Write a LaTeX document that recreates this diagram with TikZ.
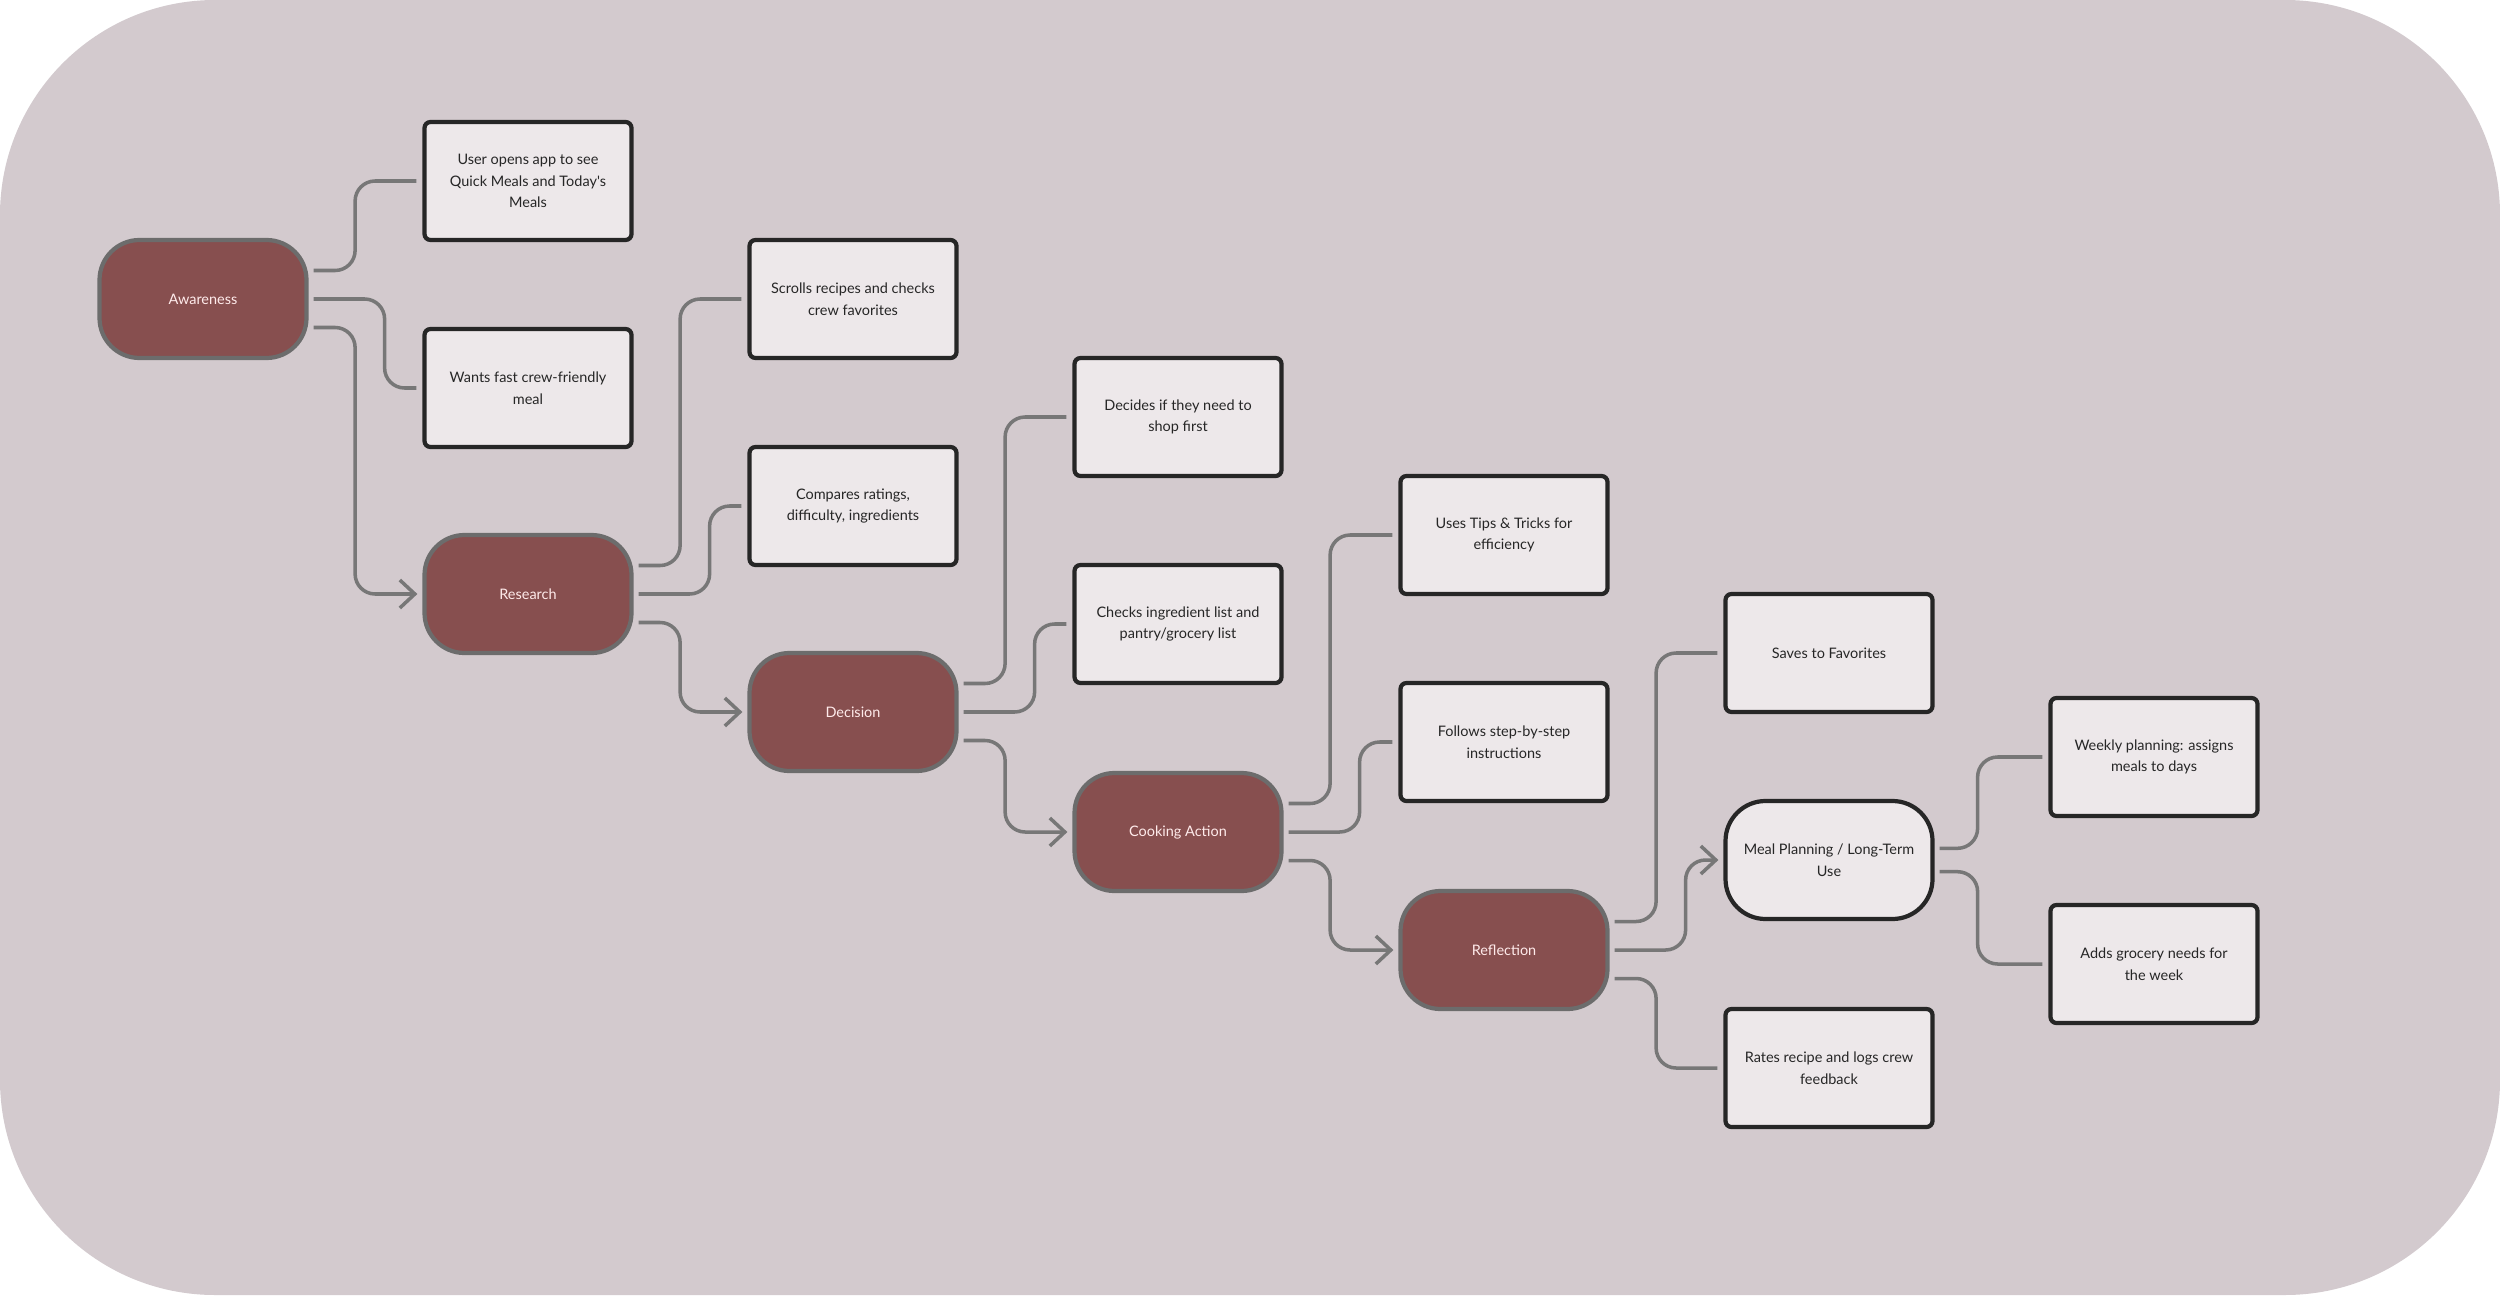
\documentclass[tikz,border=0pt]{standalone}
\usepackage{fontspec}
\setmainfont{Lato}
\usetikzlibrary{arrows.meta}

\definecolor{bgpink}{HTML}{D3CACE}
\definecolor{stagefill}{HTML}{874F4F}
\definecolor{boxfill}{HTML}{EDE8EA}
\definecolor{linkgray}{HTML}{777777}

\tikzset{
  stage/.style={draw=gray!85!black, line width=1.2pt, fill=stagefill, text=white!92!red,
    rounded corners=0.4cm, minimum width=2.07cm, minimum height=1.18cm, inner sep=0pt, align=center},
  plan/.style={stage, draw=black!85, fill=boxfill, text=black!85},
  stepbox/.style={draw=black!85, line width=1.2pt, fill=boxfill, text=black!85,
    rounded corners=0.06cm, minimum width=2.07cm, minimum height=1.18cm, inner sep=0pt, align=center},
  link/.style={draw=linkgray, line width=1pt, rounded corners=0.2cm},
  flow/.style={link, -{Straight Barb[length=0.15cm,width=0.28cm]}}
}

\begin{document}
\begin{tikzpicture}[every node/.style={font=\fontsize{4.12}{6.2}\selectfont}]
\useasboundingbox (0,0) rectangle (25,12.95);
\fill[bgpink, rounded corners=2.15cm] (0,0) rectangle (25,12.95);

% stages of the journey
\foreach \n/\x/\y/\t in {aw/2.03/9.96/Awareness, re/5.28/7.01/Research, de/8.53/5.83/Decision,
  co/11.78/4.63/Cooking Action, rf/15.04/3.45/Reflection}
  { \node[stage] (\n) at (\x,\y) {\t}; }
\node[plan] (mp) at (18.29,4.35) {Meal Planning / Long-Term\\Use};

% steps
\foreach \n/\x/\y/\t in {
  b1/5.28/11.14/{User opens app to see\\Quick Meals and Today\textquotesingle s\\Meals},
  b2/5.28/9.07/{Wants fast crew-friendly\\meal},
  b3/8.53/9.96/{Scrolls recipes and checks\\crew favorites},
  b4/8.53/7.89/{Compares ratings,\\difficulty, ingredients},
  b5/11.78/8.78/{Decides if they need to\\shop first},
  b6/11.78/6.71/{Checks ingredient list and\\pantry/grocery list},
  b7/15.04/7.60/{Uses Tips \& Tricks for\\efficiency},
  b8/15.04/5.53/{Follows step-by-step\\instructions},
  b9/18.29/6.42/{Saves to Favorites},
  b10/18.29/2.27/{Rates recipe and logs crew\\feedback},
  b11/21.54/5.38/{Weekly planning: assigns\\meals to days},
  b12/21.54/3.31/{Adds grocery needs for\\the week}}
  { \node[stepbox] (\n) at (\x,\y) {\t}; }

% branches
\foreach \s/\dy/\dx/\t in {aw/0.285/0.415/b1, aw/0/0.71/b2, re/0.285/0.415/b3, re/0/0.71/b4,
  de/0.285/0.415/b5, de/0/0.71/b6, co/0.285/0.415/b7, co/0/0.71/b8,
  rf/0.285/0.415/b9, rf/-0.285/0.415/b10, mp/0.117/0.38/b11, mp/-0.117/0.38/b12}
  { \draw[link] ([xshift=0.05cm,yshift=\dy cm]\s.east) -- ++(\dx,0) |- ([xshift=-0.06cm]\t.west); }

% main flow
\foreach \s/\dy/\dx/\t in {aw/-0.285/0.415/re, re/-0.285/0.415/de, de/-0.285/0.415/co,
  co/-0.285/0.415/rf, rf/0/0.71/mp}
  { \draw[flow] ([xshift=0.05cm,yshift=\dy cm]\s.east) -- ++(\dx,0) |- ([xshift=-0.05cm]\t.west); }
\end{tikzpicture}
\end{document}
